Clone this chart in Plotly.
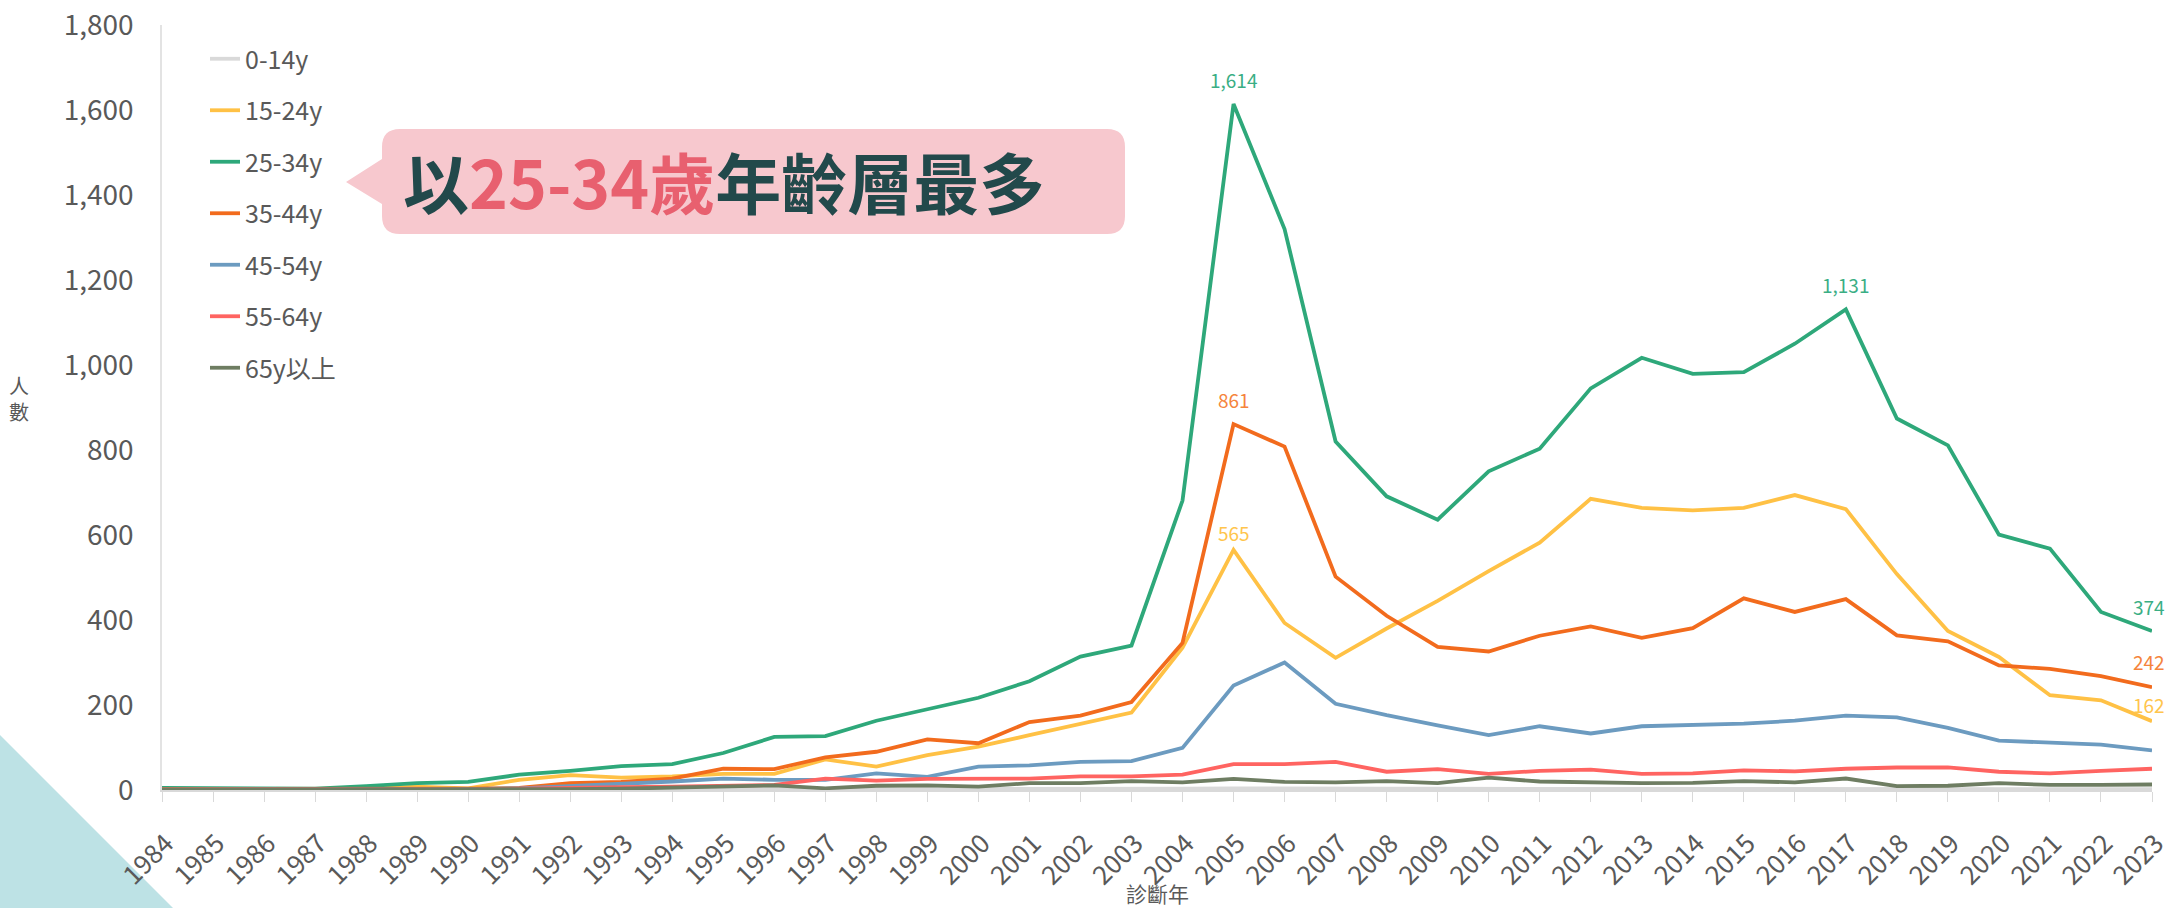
import plotly.graph_objects as go

years = list(range(1984, 2024))
series_names = ["0-14y", "15-24y", "25-34y", "35-44y", "45-54y", "55-64y", "65y以上"]

age_0_14 = [2, 2, 1, 1, 1, 1, 1, 1, 2, 2, 2, 2, 3, 3, 3, 3, 3, 3, 3, 3,
            3, 4, 3, 3, 3, 3, 3, 3, 3, 3, 4, 4, 3, 4, 2, 2, 3, 3, 2, 2]
age_15_24 = [1, 1, 1, 2, 3, 8, 4, 24, 35, 29, 32, 38, 38, 72, 55, 82, 102, 129, 155, 182,
             335, 565, 393, 311, 380, 445, 515, 582, 685, 664, 658, 664, 694, 661, 508, 374, 313, 223, 211, 162]
age_25_34 = [5, 5, 3, 3, 9, 16, 19, 36, 45, 56, 61, 87, 125, 127, 163, 189, 217, 256, 314, 340,
             681, 1614, 1320, 820, 691, 636, 750, 803, 945, 1017, 979, 983, 1050, 1131, 874, 811, 601, 568, 419, 374]
age_35_44 = [2, 2, 1, 2, 2, 3, 3, 5, 16, 19, 27, 50, 49, 77, 90, 119, 110, 160, 175, 207,
             346, 861, 808, 502, 410, 337, 326, 363, 385, 358, 381, 451, 419, 449, 364, 350, 293, 285, 268, 242]
age_45_54 = [1, 1, 1, 1, 1, 2, 2, 4, 9, 14, 20, 27, 24, 24, 39, 31, 55, 58, 66, 68,
             99, 246, 300, 203, 176, 152, 129, 150, 133, 150, 152, 156, 163, 175, 171, 146, 116, 111, 107, 93]
age_55_64 = [1, 1, 0, 1, 1, 1, 2, 3, 6, 7, 8, 9, 12, 27, 22, 26, 27, 27, 32, 32,
             36, 61, 61, 66, 43, 49, 38, 45, 48, 38, 39, 46, 44, 50, 53, 53, 43, 39, 45, 50]
age_65_up = [1, 1, 1, 0, 1, 1, 1, 1, 2, 3, 5, 7, 11, 4, 10, 11, 8, 16, 16, 21,
             18, 26, 19, 18, 21, 16, 29, 20, 17, 16, 17, 21, 18, 27, 9, 10, 16, 12, 12, 13]

series_values = [age_0_14, age_15_24, age_25_34, age_35_44, age_45_54, age_55_64, age_65_up]
colors = ["#d9d9d9", "#ffc145", "#2ea87a", "#f26b1d", "#6c9bc0", "#ff6461", "#6e7d62"]

# labelled points: (series index, year)
labelled = [(2, 2005), (3, 2005), (1, 2005), (2, 2017), (2, 2023), (3, 2023), (1, 2023)]
label_shift = {(2, 2005): 25, (3, 2005): 25, (1, 2005): 17, (2, 2017): 25,
               (2, 2023): 25, (3, 2023): 26, (1, 2023): 17}
label_colors = {1: "#ffc54d", 2: "#3aae84", 3: "#f5843c"}

y_ticks = list(range(0, 1801, 200))

FONT = "Noto Sans CJK TC, Noto Sans, sans-serif"
W, H = 2172, 908
L, R, T, B = 162, 20, 25, 118
PW = W - L - R
PH = H - T - B


def px(x):
    return (x - L) / PW


def py(y):
    return (H - B - y) / PH


fig = go.Figure()
for i, (name, vals) in enumerate(zip(series_names, series_values)):
    fig.add_trace(go.Scatter(
        x=years, y=vals, name=name, mode="lines",
        line=dict(color=colors[i], width=3.8),
        legendgroup=name,
    ))

for (si, yr) in labelled:
    v = series_values[si][years.index(yr)]
    fig.add_annotation(x=yr, y=v, text=f"{v:,}", showarrow=False,
                       yshift=label_shift[(si, yr)],
                       xshift=-3 if yr == 2023 else 0,
                       font=dict(family=FONT, size=19, color=label_colors[si]))

# callout box
r = 18
x0, x1, y0, y1 = 382, 1125, 129, 234
path = (
    f"M {px(x0 + r)} {py(y0)} L {px(x1 - r)} {py(y0)} "
    f"Q {px(x1)} {py(y0)} {px(x1)} {py(y0 + r)} "
    f"L {px(x1)} {py(y1 - r)} Q {px(x1)} {py(y1)} {px(x1 - r)} {py(y1)} "
    f"L {px(x0 + r)} {py(y1)} Q {px(x0)} {py(y1)} {px(x0)} {py(y1 - r)} "
    f"L {px(x0)} {py(204)} L {px(346)} {py(182)} L {px(x0)} {py(159)} "
    f"L {px(x0)} {py(y0 + r)} Q {px(x0)} {py(y0)} {px(x0 + r)} {py(y0)} Z"
)
fig.add_shape(type="path", path=path, xref="paper", yref="paper",
              fillcolor="#f7c8ce", line=dict(width=0), layer="below")

fig.add_annotation(
    x=px(401), y=py(180), xref="paper", yref="paper", xanchor="left", yanchor="middle",
    showarrow=False,
    text='<b>以<span style="color:#e8606f">25-34歲</span>年齡層最多</b>',
    font=dict(family=FONT, size=66, color="#22494b"),
)

# decorative triangle bottom-left
tri = f"M {px(0)} {py(735)} L {px(173)} {py(908)} L {px(0)} {py(908)} Z"
fig.add_shape(type="path", path=tri, xref="paper", yref="paper",
              fillcolor="#bde2e5", line=dict(width=0), layer="below")

# axis titles
fig.add_annotation(x=px(19), y=py(398), xref="paper", yref="paper", showarrow=False,
                   xanchor="center", yanchor="middle",
                   text="人<br>數", font=dict(family=FONT, size=20, color="#595959"))
fig.add_annotation(x=px(1157), y=py(893), xref="paper", yref="paper", showarrow=False,
                   xanchor="center", yanchor="middle",
                   text="診斷年", font=dict(family=FONT, size=21, color="#595959"))

fig.update_layout(
    width=W, height=H,
    margin=dict(l=L, r=R, t=T, b=B),
    paper_bgcolor="white", plot_bgcolor="white",
    font=dict(family=FONT, color="#595959"),
    showlegend=True,
    legend=dict(x=px(205), y=py(36), xanchor="left", yanchor="top",
                font=dict(family=FONT, size=25, color="#595959"),
                tracegroupgap=16, bgcolor="rgba(0,0,0,0)"),
    xaxis=dict(range=[1984, 2023], tickvals=years, ticktext=[str(y) for y in years],
               tickangle=-45, ticks="outside", ticklen=10, tickcolor="#d9d9d9",
               showline=True, linecolor="#d9d9d9", linewidth=2, showgrid=False,
               zeroline=False, automargin=False, ticklabelstandoff=16,
               ticklabelshift=4,
               tickfont=dict(family=FONT, size=26, color="#595959")),
    yaxis=dict(range=[0, 1800], tickvals=y_ticks, tickformat=",", showgrid=False,
               zeroline=False, showline=True, linecolor="#e3e3e3", linewidth=1.5,
               ticks="", ticklabelstandoff=21, automargin=False,
               tickfont=dict(family=FONT, size=28, color="#595959")),
)

fig.write_html("out.html", config={"displayModeBar": False},
               post_script="document.body.style.margin='0';")
